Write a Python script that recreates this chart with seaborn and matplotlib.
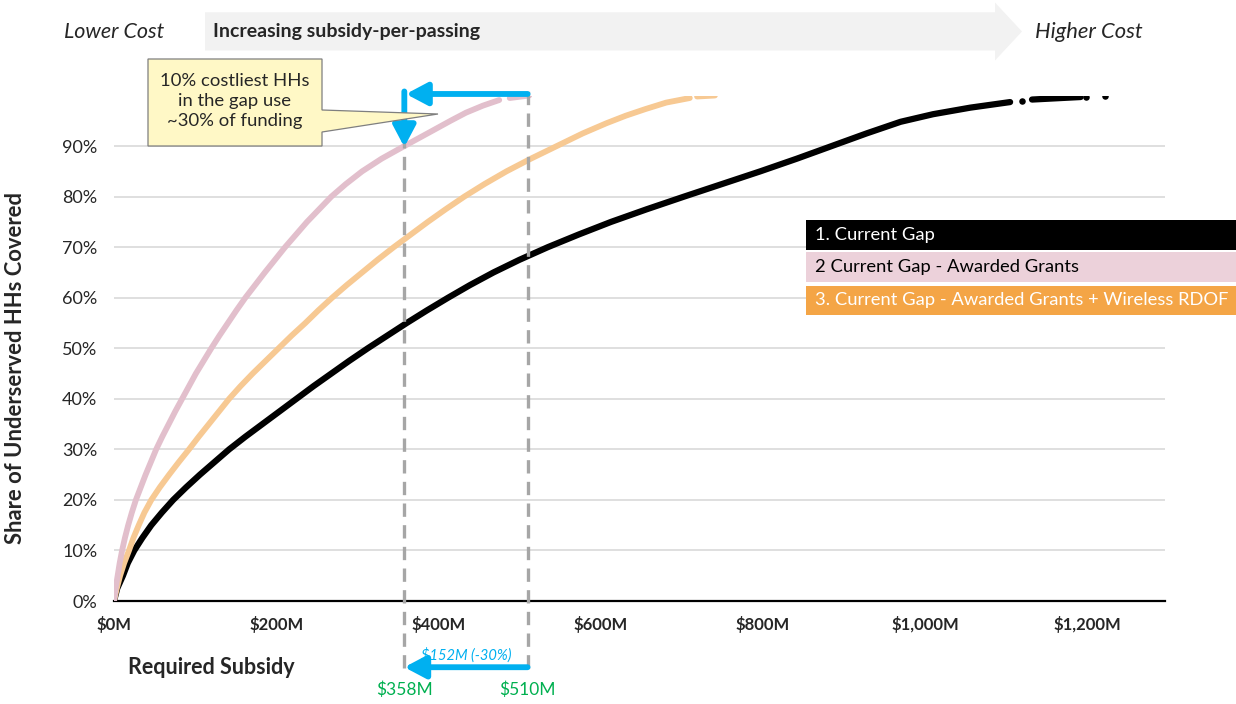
import pandas as pd
import matplotlib.pyplot as plt
import seaborn as sns
from matplotlib.patches import Polygon, Rectangle

# Curve data: required subsidy ($M) vs share of HHs covered (%)
gap_subsidy = [0, 4, 11, 17, 25, 35, 46, 59, 73, 89, 106, 124, 142, 162, 183, 204, 225,
               246, 268, 290, 313, 337, 361, 386, 412, 439, 468, 500, 535, 573, 613, 657,
               703, 750, 797, 842, 885, 928, 970, 1010, 1056, 1105]
gap_share = [0, 2.5, 5, 7.5, 10, 12.5, 15, 17.5, 20, 22.5, 25, 27.5, 30, 32.5, 35, 37.5,
             40, 42.5, 45, 47.5, 50, 52.5, 55, 57.5, 60, 62.5, 65, 67.5, 70, 72.5, 75,
             77.5, 80, 82.5, 85, 87.5, 90, 92.5, 94.8, 96.3, 97.6, 98.7]
gap_tail_subsidy = [1132, 1192]
gap_tail_share = [99.2, 99.7]
gap_dots_subsidy = [1120, 1199, 1222]
gap_dots_share = [99.0, 99.8, 100]

grants_subsidy = [0, 2, 4.5, 7, 10, 13.5, 17.5, 22, 27, 33, 39, 45.5, 52, 59.5, 67.5,
                  75.5, 84, 92.5, 101, 110.5, 120, 130, 140.5, 151, 162, 174, 186, 198.5,
                  211, 224.5, 238, 253, 268, 286, 306, 330, 358, 390, 415, 434, 455, 475]
grants_share = [0, 2.5, 5, 7.5, 10, 12.5, 15, 17.5, 20, 22.5, 25, 27.5, 30, 32.5, 35,
                37.5, 40, 42.5, 45, 47.5, 50, 52.5, 55, 57.5, 60, 62.5, 65, 67.5, 70,
                72.5, 75, 77.5, 80, 82.5, 85, 87.5, 90, 92.8, 95, 96.6, 98, 99.1]
grants_tail_subsidy = [488, 512]
grants_tail_share = [99.5, 100]

rdof_subsidy = [0, 3.5, 7.5, 12.5, 18.5, 24, 30.5, 37.5, 46, 56.5, 68, 80, 92.5, 104.5,
                117, 129.5, 142, 156, 171, 187, 203, 219, 236, 252, 269, 287, 306, 325,
                345, 366, 387, 409, 432, 457, 484, 514, 546, 578, 607, 631, 655, 681, 710]
rdof_share = [0, 2.5, 5, 7.5, 10, 12.5, 15, 17.5, 20, 22.5, 25, 27.5, 30, 32.5, 35,
              37.5, 40, 42.5, 45, 47.5, 50, 52.5, 55, 57.5, 60, 62.5, 65, 67.5, 70, 72.5,
              75, 77.5, 80, 82.5, 85, 87.5, 90, 92.5, 94.5, 96, 97.3, 98.6, 99.5]
rdof_tail_subsidy = [719, 741]
rdof_tail_share = [99.8, 100]

x_ticks = [0, 200, 400, 600, 800, 1000, 1200]
x_labels = ['$0M', '$200M', '$400M', '$600M', '$800M', '$1,000M', '$1,200M']
y_ticks = [0, 10, 20, 30, 40, 50, 60, 70, 80, 90]
y_labels = ['0%', '10%', '20%', '30%', '40%', '50%', '60%', '70%', '80%', '90%']

marker_low = 358
marker_high = 510

legend_labels = ['1. Current Gap', '2 Current Gap - Awarded Grants',
                 '3. Current Gap - Awarded Grants + Wireless RDOF']

BLACK = '#000000'
PINK = '#e2bfcc'
ORANGE = '#f7c993'
BLUE = '#00b0f0'
GREEN = '#00b050'

sns.set_theme(style='white')
plt.rcParams['font.family'] = ['Lato', 'DejaVu Sans']

W, H = 1236, 704
fig = plt.figure(figsize=(W / 100, H / 100), dpi=100)
ax = fig.add_axes([114 / W, 1 - 601 / H, (1165 - 114) / W, (601 - 95.5) / H])


def fx(x):
    return x / W


def fy(y):
    return 1 - y / H


# curves: black first, then orange, pink on top
curves = [
    (gap_subsidy, gap_share, BLACK, 3, 4.5),
    (gap_tail_subsidy, gap_tail_share, BLACK, 3, 4.5),
    (rdof_subsidy, rdof_share, ORANGE, 4, 4.2),
    (rdof_tail_subsidy, rdof_tail_share, ORANGE, 4, 4.2),
    (grants_subsidy, grants_share, PINK, 5, 4.2),
    (grants_tail_subsidy, grants_tail_share, PINK, 5, 4.2),
]
for xs, ys, col, z, lw in curves:
    sns.lineplot(x=xs, y=ys, ax=ax, color=col, linewidth=lw, sort=False,
                 estimator=None, solid_capstyle='round', solid_joinstyle='round',
                 zorder=z)
sns.scatterplot(x=gap_dots_subsidy, y=gap_dots_share, ax=ax, color=BLACK, s=22,
                linewidth=0, zorder=3)

ax.set_xlim(0, 1296)
ax.set_ylim(0, 100)
ax.set_xticks(x_ticks)
ax.set_xticklabels(x_labels, fontsize=12, fontweight='bold')
ax.set_yticks(y_ticks)
ax.set_yticklabels(y_labels, fontsize=13)
ax.tick_params(axis='x', length=0, pad=11)
ax.tick_params(axis='y', length=0, pad=12)
ax.yaxis.grid(True, color='#d9d9d9', linewidth=1.2)
ax.set_axisbelow(True)
for side in ['top', 'right', 'left']:
    ax.spines[side].set_visible(False)
ax.spines['bottom'].set_color('black')
ax.spines['bottom'].set_linewidth(1.6)

# dashed marker lines
for xv in [marker_low, marker_high]:
    ax.plot([xv, xv], [-13.3, 102], color='#a6a6a6', linewidth=2.4,
            linestyle=(0, (4, 2.5)), clip_on=False, zorder=6)

# blue arrows
arrow_props = dict(arrowstyle='-|>,head_length=0.85,head_width=0.45', color=BLUE,
                   linewidth=4.2, shrinkA=0, shrinkB=0, mutation_scale=15)
ax.annotate('', xy=(marker_low + 2, 100.3), xytext=(marker_high, 100.3),
            arrowprops=arrow_props, annotation_clip=False, zorder=7)
ax.annotate('', xy=(marker_low, 89.8), xytext=(marker_low, 100.8),
            arrowprops=arrow_props, annotation_clip=False, zorder=7)
ax.annotate('', xy=(marker_low, -13.1), xytext=(marker_high, -13.1),
            arrowprops=arrow_props, annotation_clip=False, zorder=7)

# labels under the axis
ax.text((marker_low + marker_high) / 2, -10.8, '$152M (-30%)', color=BLUE,
        fontsize=10.5, fontstyle='italic', ha='center', va='center', clip_on=False)
ax.text(marker_low, -17.6, '$358M', color=GREEN, fontsize=12.5, ha='center',
        va='center', clip_on=False)
ax.text(marker_high, -17.6, '$510M', color=GREEN, fontsize=12.5, ha='center',
        va='center', clip_on=False)

fig.text(fx(16), fy(368), 'Share of Underserved HHs Covered', rotation=90,
         fontsize=15.8, fontweight='bold', ha='center', va='center')
fig.text(fx(211), fy(667), 'Required Subsidy', fontsize=15.5, fontweight='bold',
         ha='center', va='center')

# top banner arrow
banner = [(205, 12.3), (995, 12.3), (995, 2.5), (1022, 31.5), (995, 60.5),
          (995, 50.5), (205, 50.5)]
fig.add_artist(Polygon([(fx(a), fy(b)) for a, b in banner], closed=True,
                       transform=fig.transFigure, facecolor='#f2f2f2', edgecolor='none'))
fig.text(fx(213), fy(32), 'Increasing subsidy-per-passing', fontsize=14,
         fontweight='bold', ha='left', va='center')
fig.text(fx(114), fy(32), 'Lower Cost', fontsize=15.5, fontstyle='italic',
         ha='center', va='center')
fig.text(fx(1035), fy(32), 'Higher Cost', fontsize=15.8, fontstyle='italic',
         ha='left', va='center')

# callout
callout = [(148, 59), (322, 59), (322, 110), (438, 114), (322, 132), (322, 146),
           (148, 146)]
fig.add_artist(Polygon([(fx(a), fy(b)) for a, b in callout], closed=True,
                       transform=fig.transFigure, facecolor='#fff8c6',
                       edgecolor='#7f7f7f', linewidth=0.9, zorder=8))
fig.text(fx(235), fy(101), '10% costliest HHs\nin the gap use\n~30% of funding',
         fontsize=13.3, ha='center', va='center', multialignment='center',
         linespacing=1.3, zorder=9)

# legend boxes
legend_boxes = [(220, 250, BLACK, 'white'), (252, 282, '#ecd1da', 'black'),
                (286, 315, '#f4a546', 'white')]
for (top, bottom, face, tcol), label in zip(legend_boxes, legend_labels):
    fig.add_artist(Rectangle((fx(806), fy(bottom)), fx(1236 - 806), (bottom - top) / H,
                             transform=fig.transFigure, facecolor=face,
                             edgecolor='none', zorder=8))
    fig.text(fx(815), fy((top + bottom) / 2), label, color=tcol, fontsize=13.2,
             ha='left', va='center', zorder=9)

fig.savefig('out.png', dpi=100)
